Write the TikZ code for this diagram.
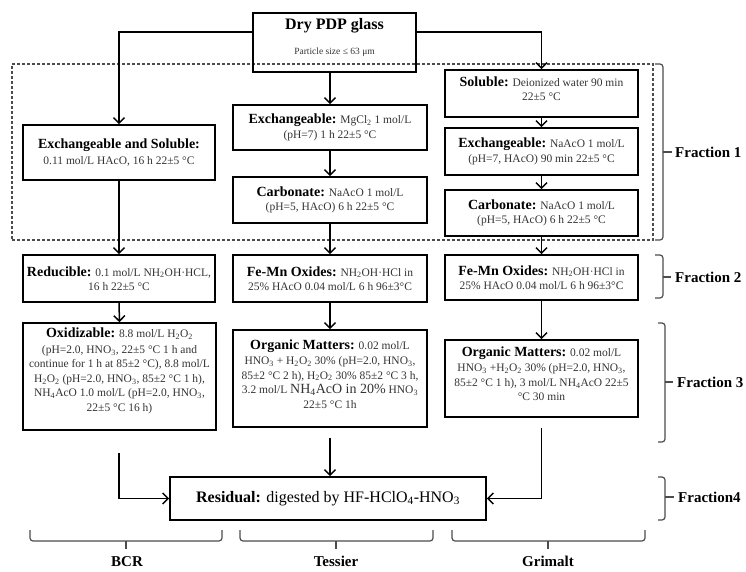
\documentclass[tikz,border=0pt]{standalone}
\usepackage{fontspec}
\setmainfont{Liberation Serif}
\usetikzlibrary{arrows.meta}
\newcommand\chs[1]{\textsubscript{#1}}
\newcommand\lab[1]{{\color{black}\fontsize{14}{16}\selectfont\bfseries #1}}
\newcommand\padb[1]{\\[#1]\mbox{}}
\begin{document}
\begin{tikzpicture}[x=1pt,y=-1pt,
  box/.style={draw=black, line width=1.6pt, align=center, inner sep=2pt,
    font=\fontsize{11.5}{14.5}\selectfont, text=black!80},
  arr/.style={line width=1.5pt, -{Straight Barb[length=5.5pt,width=11pt,line width=1.5pt]}},
  grpbox/.style={draw=black!70, line width=1.1pt, densely dashed},
  brk/.style={draw=black!70, line width=1.2pt, rounded corners=3pt},
  frac/.style={font=\fontsize{15}{17}\selectfont\bfseries, anchor=west, inner sep=0pt},
  meth/.style={font=\fontsize{15}{17}\selectfont\bfseries, inner sep=0pt}
]
\useasboundingbox (0,0) rectangle (746,571);

% group box of Fraction 1
\node[grpbox, minimum width=641pt, minimum height=176pt, inner sep=0pt] (grp) at (332.5,152) {};

% top node
\node[box, minimum width=163pt, minimum height=59pt] (dry) at (334.5,42.5)
  {\lab{\fontsize{16}{18}\selectfont Dry PDP glass}\\[10pt]{\fontsize{9.5}{11}\selectfont Particle size ≤ 63 μm}\padb{-2pt}};

% BCR column
\node[box, minimum width=192pt, minimum height=55pt] (a1) at (119,152.5)
  {\lab{Exchangeable and Soluble:}\\[1pt] 0.11 mol/L HAcO, 16 h 22±5 °C};
\node[box, minimum width=192pt, minimum height=47pt] (a2) at (119,278.5)
  {\lab{Reducible:} 0.1 mol/L NH\chs{2}OH·HCL,\\ 16 h 22±5 °C};
\node[box, minimum width=193pt, minimum height=107pt] (a3) at (119.5,376.5)
  {\lab{Oxidizable:} 8.8 mol/L H\chs{2}O\chs{2}\\[1pt] (pH=2.0, HNO\chs{3}, 22±5 °C 1 h and\\ continue for 1 h at 85±2 °C), 8.8 mol/L\\ H\chs{2}O\chs{2} (pH=2.0, HNO\chs{3}, 85±2 °C 1 h),\\ NH\chs{4}AcO 1.0 mol/L (pH=2.0, HNO\chs{3},\\ 22±5 °C 16 h)\padb{-1pt}};

% Tessier column
\node[box, minimum width=194pt, minimum height=45pt] (b1) at (330,127.5)
  {\lab{Exchangeable:} MgCl\chs{2} 1 mol/L\\ (pH=7) 1 h 22±5 °C};
\node[box, minimum width=194pt, minimum height=46pt] (b2) at (330,200)
  {\lab{Carbonate:} NaAcO 1 mol/L\\ (pH=5, HAcO) 6 h 22±5 °C};
\node[box, minimum width=194pt, minimum height=47pt] (b3) at (330,278.5)
  {\lab{Fe-Mn Oxides:} NH\chs{2}OH·HCl in\\ 25\% HAcO 0.04 mol/L 6 h 96±3°C};
\node[box, minimum width=194pt, minimum height=97pt] (b4) at (330,378.5)
  {\lab{Organic Matters:} 0.02 mol/L\\[1pt] HNO\chs{3} + H\chs{2}O\chs{2} 30\% (pH=2.0, HNO\chs{3},\\ 85±2 °C 2 h), H\chs{2}O\chs{2} 30\% 85±2 °C 3 h,\\ 3.2 mol/L {\fontsize{14}{16}\selectfont NH\chs{4}AcO in 20\%} HNO\chs{3}\\ 22±5 °C 1h\padb{-5pt}};

% Grimalt column
\node[box, minimum width=193pt, minimum height=47pt] (c1) at (541.5,93.5)
  {\lab{Soluble:} Deionized water 90 min\\ 22±5 °C\padb{-5pt}};
\node[box, minimum width=193pt, minimum height=47pt] (c2) at (541.5,151.5)
  {\lab{Exchangeable:} NaAcO 1 mol/L\\ (pH=7, HAcO) 90 min 22±5 °C};
\node[box, minimum width=193pt, minimum height=46pt] (c3) at (541.5,213)
  {\lab{Carbonate:} NaAcO 1 mol/L\\ (pH=5, HAcO) 6 h 22±5 °C};
\node[box, minimum width=193pt, minimum height=45pt] (c4) at (541.5,277.5)
  {\lab{Fe-Mn Oxides:} NH\chs{2}OH·HCl in\\ 25\% HAcO 0.04 mol/L 6 h 96±3°C};
\node[box, minimum width=193pt, minimum height=77pt] (c5) at (541.5,378.5)
  {\lab{Organic Matters:} 0.02 mol/L\\[1pt] HNO\chs{3} +H\chs{2}O\chs{2} 30\% (pH=2.0, HNO\chs{3},\\ 85±2 °C 1 h), 3 mol/L NH\chs{4}AcO 22±5\\ °C 30 min\padb{-5pt}};

% Residual
\node[box, minimum width=316pt, minimum height=43pt, text=black, font=\fontsize{16}{18}\selectfont] (res) at (328,498.5)
  {\textbf{Residual:} digested by HF-HClO\chs{4}-HNO\chs{3}};

% connectors from the top node
\draw[arr] ([yshift=-20pt]dry.north west) -| (a1.north);
\draw[arr] ([yshift=-20pt]dry.north east) -| (c1.north);
\draw[arr] (b1.north |- dry.south) -- (b1.north);

% column connectors
\draw[arr] (a1.south) -- (a2.north);
\draw[arr] (a2.south) -- (a3.north);
\draw[arr] (b1.south) -- (b2.north);
\draw[arr] (b2.south) -- (b3.north);
\draw[arr] (b3.south) -- (b4.north);
\draw[arr] (c1.south) -- (c2.north);
\draw[arr] (c2.south) -- (c3.north);
\draw[arr] (c3.south) -- (c4.north);
\draw[arr] (c4.south) -- (c5.north);

% to residual
\coordinate (ae) at (119,453);
\coordinate (be) at (330,438);
\coordinate (ce) at (541.5,428);
\draw[arr] (ae) |- (res.west);
\draw[arr] (be) -- (be |- res.north);
\draw[arr] (ce) |- (res.east);

% fraction brackets
\draw[brk] (655,64) -- (663,64) -- (663,240) -- (655,240);
\draw[brk] (663,152) -- (672,152);
\node[frac] (f1) at (675,152) {Fraction 1};
\draw[brk] (655,255) -- (663,255) -- (663,298) -- (655,298);
\draw[brk] (663,277) -- (671,277);
\node[frac] (f2) at (675,277) {Fraction 2};
\draw[brk] (658,323) -- (665,323) -- (665,442) -- (658,442);
\draw[brk] (665,382) -- (673,382);
\node[frac] (f3) at (677,382) {Fraction 3};
\draw[brk] (658,477) -- (665,477) -- (665,520) -- (658,520);
\draw[brk] (665,497) -- (674,497);
\node[frac] (f4) at (678,497) {Fraction4};

% method brackets
\draw[brk] (30,530) -- (30,541) -- (222,541) -- (222,530);
\draw[brk] (126,541) -- (126,549);
\draw[brk] (240,530) -- (240,541) -- (433,541) -- (433,530);
\draw[brk] (336,541) -- (336,549);
\draw[brk] (452,530) -- (452,541) -- (645,541) -- (645,530);
\draw[brk] (548,541) -- (548,549);
\node[meth] (m1) at (127,561.5) {BCR};
\node[meth] (m2) at (336,561.5) {Tessier};
\node[meth] (m3) at (548,561.5) {Grimalt};
\end{tikzpicture}
\end{document}
